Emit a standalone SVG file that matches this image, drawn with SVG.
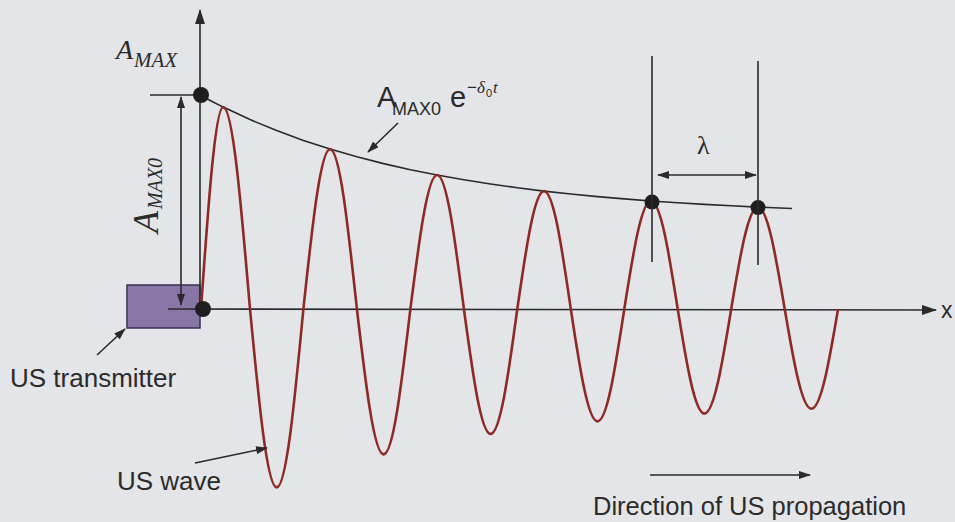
<svg xmlns="http://www.w3.org/2000/svg" width="955" height="522" viewBox="0 0 955 522">
<defs>
<marker id="ah" viewBox="0 0 12 8" refX="11" refY="4" markerWidth="12" markerHeight="8" markerUnits="userSpaceOnUse" orient="auto-start-reverse">
<path d="M0,0 L12,4 L0,8 z" fill="#2a2a2a"/>
</marker>
<marker id="ahb" viewBox="0 0 15 10" refX="14" refY="5" markerWidth="15" markerHeight="10" markerUnits="userSpaceOnUse" orient="auto">
<path d="M0,0 L15,5 L0,10 z" fill="#2a2a2a"/>
</marker>
</defs>
<style>
.ln{stroke:#2a2a2a;stroke-width:1.6;fill:none}
.sans{font-family:"Liberation Sans",Arial,sans-serif;fill:#2b2b2b}
.serif{font-family:"Liberation Serif","Times New Roman",serif;fill:#2b2b2b}
.dot{fill:#1e1e1e}
</style>
<rect width="955" height="522" fill="#e3e5e9"/>

<g id="transmitter">
<rect x="127" y="285" width="73" height="43" fill="#8877a6" stroke="#3a3050" stroke-width="1.5"/>
</g>

<g id="axes">
<line class="ln" x1="200" y1="309" x2="200" y2="10" marker-end="url(#ahb)"/>
<line class="ln" x1="168" y1="309" x2="936" y2="310" marker-end="url(#ahb)"/>
<line class="ln" x1="150" y1="95" x2="200" y2="95"/>
</g>

<g id="envelope">
<polyline class="ln" stroke-width="1.5" points="200,95 211.6,101.2 223.2,107.1 250,119.6 276.7,130.6 303.4,140.4 330.1,149.1 356.9,156.8 383.6,163.6 410.4,169.7 437.1,175 463.9,179.8 490.6,184 517.3,187.7 544,191.1 570.8,194 597.5,196.6 624.3,198.9 651,201 677.7,202.8 704.4,204.4 731.2,205.8 757.9,207.1 792,208.5"/>
</g>

<g id="wave">
<path fill="none" stroke="#8e2a22" stroke-width="2.6" d="M201,309 C208.2,205.6 215.2,107.1 223.2,107.1 C232.9,107.1 241.2,205.6 250,309 C258.7,400.4 267,487.4 276.7,487.4 C286.4,487.4 294.7,400.4 303.4,309 C312.1,227.1 320.5,149.1 330.1,149.1 C339.8,149.1 348.1,227.1 356.9,309 C365.6,383.5 374,454.4 383.6,454.4 C393.3,454.4 401.6,383.5 410.4,309 C419.1,240.4 427.5,175 437.1,175 C446.8,175 455.1,240.4 463.9,309 C472.6,373 480.9,434 490.6,434 C500.3,434 508.6,373 517.3,309 C526,248.6 534.4,191.1 544,191.1 C553.7,191.1 562,248.6 570.8,309 C579.5,366.6 587.9,421.4 597.5,421.4 C607.2,421.4 615.5,366.6 624.3,309 C633,253.7 641.4,201 651,201 C660.7,201 669,253.7 677.7,309 C686.4,362.6 694.8,413.6 704.4,413.6 C714.1,413.6 722.4,362.6 731.2,309 C739.9,256.8 748.3,207.1 757.9,207.1 C767.6,207.1 775.9,256.8 784.7,309 C793.4,360.1 801.8,408.8 811.4,408.8 C821.1,408.8 829.4,360.1 838.1,309"/>
</g>

<g id="dots">
<circle class="dot" cx="201" cy="95" r="8"/>
<circle class="dot" cx="203" cy="309" r="8"/>
<circle class="dot" cx="652" cy="202" r="7.5"/>
<circle class="dot" cx="758" cy="207.5" r="7.5"/>
</g>

<g id="connectors">
<line class="ln" x1="181" y1="97" x2="181" y2="305" marker-start="url(#ah)" marker-end="url(#ah)"/>
<line class="ln" x1="652" y1="56" x2="652" y2="262"/>
<line class="ln" x1="758" y1="61" x2="758" y2="265"/>
<line class="ln" x1="658" y1="175" x2="756" y2="175" marker-start="url(#ah)" marker-end="url(#ah)"/>
<line class="ln" x1="398" y1="123" x2="368" y2="152" marker-end="url(#ah)"/>
<line class="ln" x1="97" y1="355" x2="125" y2="329" marker-end="url(#ah)"/>
<line class="ln" x1="195" y1="463" x2="267" y2="448" marker-end="url(#ah)"/>
<line class="ln" x1="650" y1="475" x2="810" y2="475" marker-end="url(#ah)"/>
</g>

<g id="labels">
<text class="serif" font-style="italic" x="116" y="59" font-size="28">A<tspan font-size="21" dy="8" dx="1">MAX</tspan></text>
<text class="serif" font-style="italic" transform="translate(158,233) rotate(-90)" font-size="36">A<tspan font-size="20" dy="4" dx="2">MAX0</tspan></text>
<text class="sans" x="377" y="107" font-size="29">A</text>
<text class="sans" x="392" y="115" font-size="18">MAX0</text>
<text class="sans" x="450" y="107" font-size="29">e</text>
<text class="sans" x="467" y="93" font-size="17">−</text>
<text class="serif" font-style="italic" x="477" y="93" font-size="17">δ</text>
<text class="sans" x="486" y="97" font-size="11">0</text>
<text class="serif" font-style="italic" x="493" y="93" font-size="17">t</text>
<text class="serif" x="697" y="154" font-size="26">λ</text>
<text class="sans" x="941" y="318" font-size="23">x</text>
<text class="sans" x="10" y="387" font-size="26">US transmitter</text>
<text class="sans" x="117" y="490" font-size="26">US wave</text>
<text class="sans" x="593" y="515" font-size="25.5">Direction of US propagation</text>
</g>
</svg>
